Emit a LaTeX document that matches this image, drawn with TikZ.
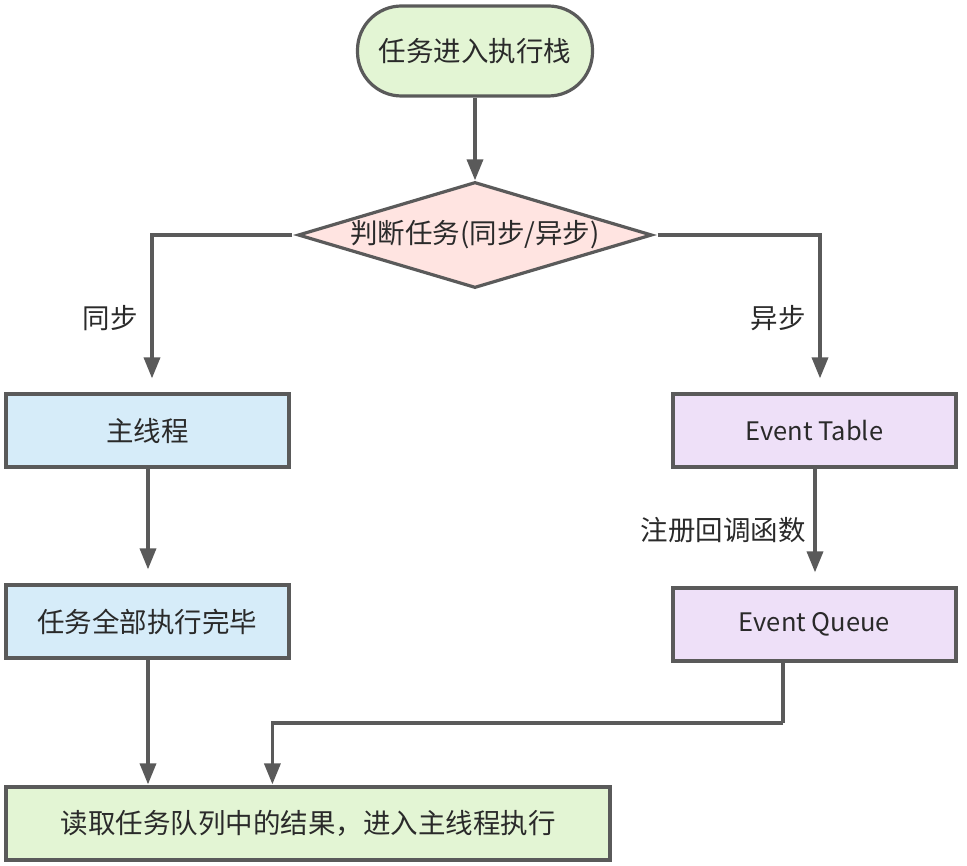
\documentclass[tikz,border=0pt]{standalone}
\usepackage{fontspec}
\setmainfont{Noto Sans CJK SC}
\usetikzlibrary{shapes.geometric,arrows.meta}
\definecolor{ln}{HTML}{5A5A5A}
\definecolor{tx}{HTML}{2A2A2A}
\definecolor{fgreen}{HTML}{E3F5D4}
\definecolor{fpink}{HTML}{FFE4E1}
\definecolor{fblue}{HTML}{D6ECF9}
\definecolor{fpurple}{HTML}{EEE0F8}
\begin{document}
\begin{tikzpicture}[x=1pt,y=-1pt,
  font=\fontsize{27.5}{31}\selectfont, text=tx,
  latin/.style={font=\fontsize{25.5}{30}\selectfont},
  box/.style={draw=ln, line width=3.2pt, minimum width=283pt, minimum height=73pt, inner sep=0pt},
  arr/.style={draw=ln, line width=3.5pt, -{Triangle[length=21pt,width=16pt]}},
  conn/.style={draw=ln, line width=3.5pt},
  lbl/.style={inner sep=0pt}]
\useasboundingbox (0,0) rectangle (967,866);
\node[draw=ln, line width=3.2pt, fill=fgreen, rounded corners=44pt, minimum width=235pt, minimum height=90pt, inner sep=0pt] (start) at (475,51) {任务进入执行栈};
\node[diamond, draw=ln, line width=3.2pt, fill=fpink, minimum width=354pt, minimum height=106pt, inner sep=0pt] (dec) at (475,235) {};
\node[lbl] (dectext) at (dec) {判断任务(同步/异步)};
\node[box, fill=fblue] (main) at (147.5,430.5) {主线程};
\node[box, fill=fblue] (done) at (147.5,621.5) {任务全部执行完毕};
\node[box, fill=fpurple, latin] (etable) at (814.5,430.5) {Event Table};
\node[box, fill=fpurple, latin] (equeue) at (814.5,624.5) {Event Queue};
\node[draw=ln, line width=3.2pt, fill=fgreen, minimum width=604pt, minimum height=73pt, inner sep=0pt] (result) at (308,823.5) {读取任务队列中的结果，进入主线程执行};
\node[lbl] (lsync) at (110,318) {同步};
\node[lbl] (lasync) at (778,318) {异步};
\node[lbl] (lreg) at (723,530) {注册回调函数};
\coordinate (bend) at (783,723);
\draw[arr] (start) -- (dec);
\draw[arr, shorten <=4pt, shorten >=14pt] (dec.west) -| ([xshift=4.5pt]main.north);
\draw[arr, shorten <=4pt, shorten >=14pt] (dec.east) -| ([xshift=5.5pt]etable.north);
\draw[arr, shorten >=14pt] ([xshift=0.5pt]main.south) -- ([xshift=0.5pt]done.north);
\draw[arr, shorten >=14pt] ([xshift=0.5pt]etable.south) -- ([xshift=0.5pt]equeue.north);
\draw[arr, shorten >=1pt] ([xshift=0.5pt]done.south) -- ([xshift=0.5pt]done.south |- result.north);
\draw[conn] (bend |- equeue.south) -- (bend);
\draw[arr, shorten >=1pt] (bend) -| ([xshift=268pt]result.north west);
\end{tikzpicture}
\end{document}
